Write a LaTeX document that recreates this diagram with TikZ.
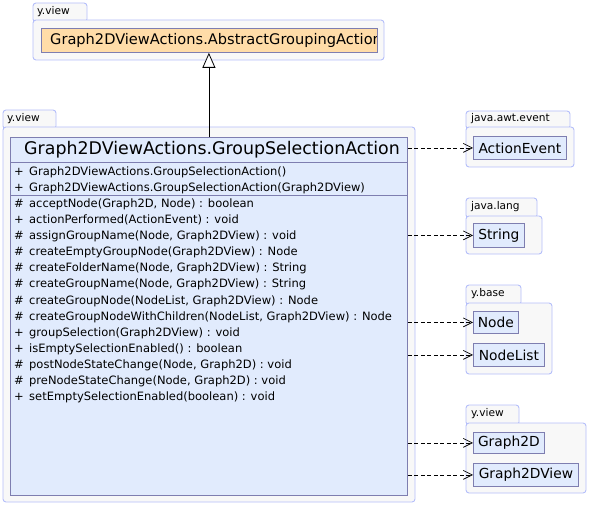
\documentclass[tikz,border=0pt]{standalone}
\usepackage{fontspec}
\setmainfont{DejaVu Sans}
\usetikzlibrary{arrows.meta}
\definecolor{pkgborder}{HTML}{B4BEFA}
\definecolor{pkgfill}{HTML}{F8F8F8}
\definecolor{clsfill}{HTML}{E1EBFD}
\definecolor{clsborder}{HTML}{7E7EB0}
\definecolor{abstfill}{HTML}{FFDCA8}
\tikzset{
  pkg/.style={draw=pkgborder, fill=pkgfill, rounded corners=3pt, line width=0.9pt},
  pkglabel/.style={anchor=west, inner sep=0pt, font=\fontsize{10.6}{12}\selectfont},
  cls/.style={draw=clsborder, fill=clsfill, line width=0.8pt, anchor=north west, inner sep=0pt, font=\fontsize{13.8}{16}\selectfont},
  member/.style={anchor=west, inner sep=0pt, font=\fontsize{11.5}{14}\selectfont},
  dep/.style={dash pattern=on 4pt off 2.5pt, line width=0.7pt, -{Straight Barb[length=9pt,width=9pt,line width=0.7pt]}},
  inh/.style={line width=0.8pt, -{Triangle[open,fill=white,length=15pt,width=13pt,line width=0.8pt]}},
}
\newcommand{\vis}[2]{\makebox[15pt][l]{#1}#2}
\begin{document}
\begin{tikzpicture}[x=1pt,y=-1pt]
\useasboundingbox (0,0) rectangle (589,505);
% ---- top package y.view
\draw[pkg] (33,3) rectangle (87,22);
\draw[pkg] (33,20) rectangle (384,60);
\node[pkglabel] (lab1) at (37,12) {y.view};
\node[cls, fill=abstfill, minimum width=336pt, minimum height=24pt] (abstract) at (41,28) {};
\begin{scope}
\clip (41,28) rectangle (376,52);
\node[anchor=west, inner sep=0pt, font=\fontsize{14.6}{16}\selectfont] (abstxt) at (50,40) {Graph2DViewActions.AbstractGroupingAction};
\end{scope}
% ---- main package y.view
\draw[pkg] (3,110) rectangle (56,129);
\draw[pkg] (3,127) rectangle (415,502);
\node[pkglabel] (lab2) at (7,119) {y.view};
\node[cls, minimum width=397pt, minimum height=358pt] (main) at (10,137) {};
\node[anchor=center, inner sep=0pt, font=\fontsize{17.4}{19}\selectfont] (title) at (212,149.5) {Graph2DViewActions.GroupSelectionAction};
\draw[clsborder, line width=0.8pt] (10,162) -- (407,162);
\draw[clsborder, line width=0.8pt] (10,195) -- (407,195);
\node[member] (c1) at (14,172) {\vis{+}{Graph2DViewActions.GroupSelectionAction()}};
\node[member] (c2) at (14,188) {\vis{+}{Graph2DViewActions.GroupSelectionAction(Graph2DView)}};
\node[member] (m1) at (14,204) {\vis{\#}{acceptNode(Graph2D, Node) : boolean}};
\node[member] (m2) at (14,220) {\vis{+}{actionPerformed(ActionEvent) : void}};
\node[member] (m3) at (14,236.5) {\vis{\#}{assignGroupName(Node, Graph2DView) : void}};
\node[member] (m4) at (14,252.5) {\vis{\#}{createEmptyGroupNode(Graph2DView) : Node}};
\node[member] (m5) at (14,268.5) {\vis{\#}{createFolderName(Node, Graph2DView) : String}};
\node[member] (m6) at (14,284.5) {\vis{\#}{createGroupName(Node, Graph2DView) : String}};
\node[member] (m7) at (14,301) {\vis{\#}{createGroupNode(NodeList, Graph2DView) : Node}};
\node[member] (m8) at (14,317) {\vis{\#}{createGroupNodeWithChildren(NodeList, Graph2DView) : Node}};
\node[member] (m9) at (14,333) {\vis{+}{groupSelection(Graph2DView) : void}};
\node[member] (m10) at (14,349) {\vis{+}{isEmptySelectionEnabled() : boolean}};
\node[member] (m11) at (14,365) {\vis{\#}{postNodeStateChange(Node, Graph2D) : void}};
\node[member] (m12) at (14,381) {\vis{\#}{preNodeStateChange(Node, Graph2D) : void}};
\node[member] (m13) at (14,397) {\vis{+}{setEmptySelectionEnabled(boolean) : void}};
% ---- java.awt.event
\draw[pkg] (466,111) rectangle (570,129);
\draw[pkg] (466,127) rectangle (574,167);
\node[pkglabel] (lab3) at (471,119) {java.awt.event};
\node[cls, minimum width=93pt, minimum height=23pt] (actionevent) at (473,136) {ActionEvent};
% ---- java.lang
\draw[pkg] (466,198) rectangle (537,218);
\draw[pkg] (466,216) rectangle (542,254);
\node[pkglabel] (lab4) at (471,207) {java.lang};
\node[cls, minimum width=51pt, minimum height=24pt] (string) at (473,223) {String};
% ---- y.base
\draw[pkg] (466,285) rectangle (521,305);
\draw[pkg] (466,303) rectangle (552,374);
\node[pkglabel] (lab5) at (471,294) {y.base};
\node[cls, minimum width=45pt, minimum height=22pt] (node) at (473,311) {Node};
\node[cls, minimum width=71pt, minimum height=23pt] (nodelist) at (473,343) {NodeList};
% ---- y.view right
\draw[pkg] (466,405) rectangle (519,425);
\draw[pkg] (466,423) rectangle (586,493);
\node[pkglabel] (lab6) at (471,414) {y.view};
\node[cls, minimum width=71pt, minimum height=21pt] (graph2d) at (473,432) {Graph2D};
\node[cls, minimum width=105pt, minimum height=23pt] (graph2dview) at (473,463) {Graph2DView};
% ---- connectors
\draw[inh] (main.north) -- (main.north |- abstract.south);
\draw[dep] (actionevent.west -| main.east) -- (actionevent.west);
\draw[dep] (string.west -| main.east) -- (string.west);
\draw[dep] (node.west -| main.east) -- (node.west);
\draw[dep] (nodelist.west -| main.east) -- (nodelist.west);
\draw[dep] (graph2d.west -| main.east) -- (graph2d.west);
\draw[dep] (graph2dview.west -| main.east) -- (graph2dview.west);
\end{tikzpicture}
\end{document}
